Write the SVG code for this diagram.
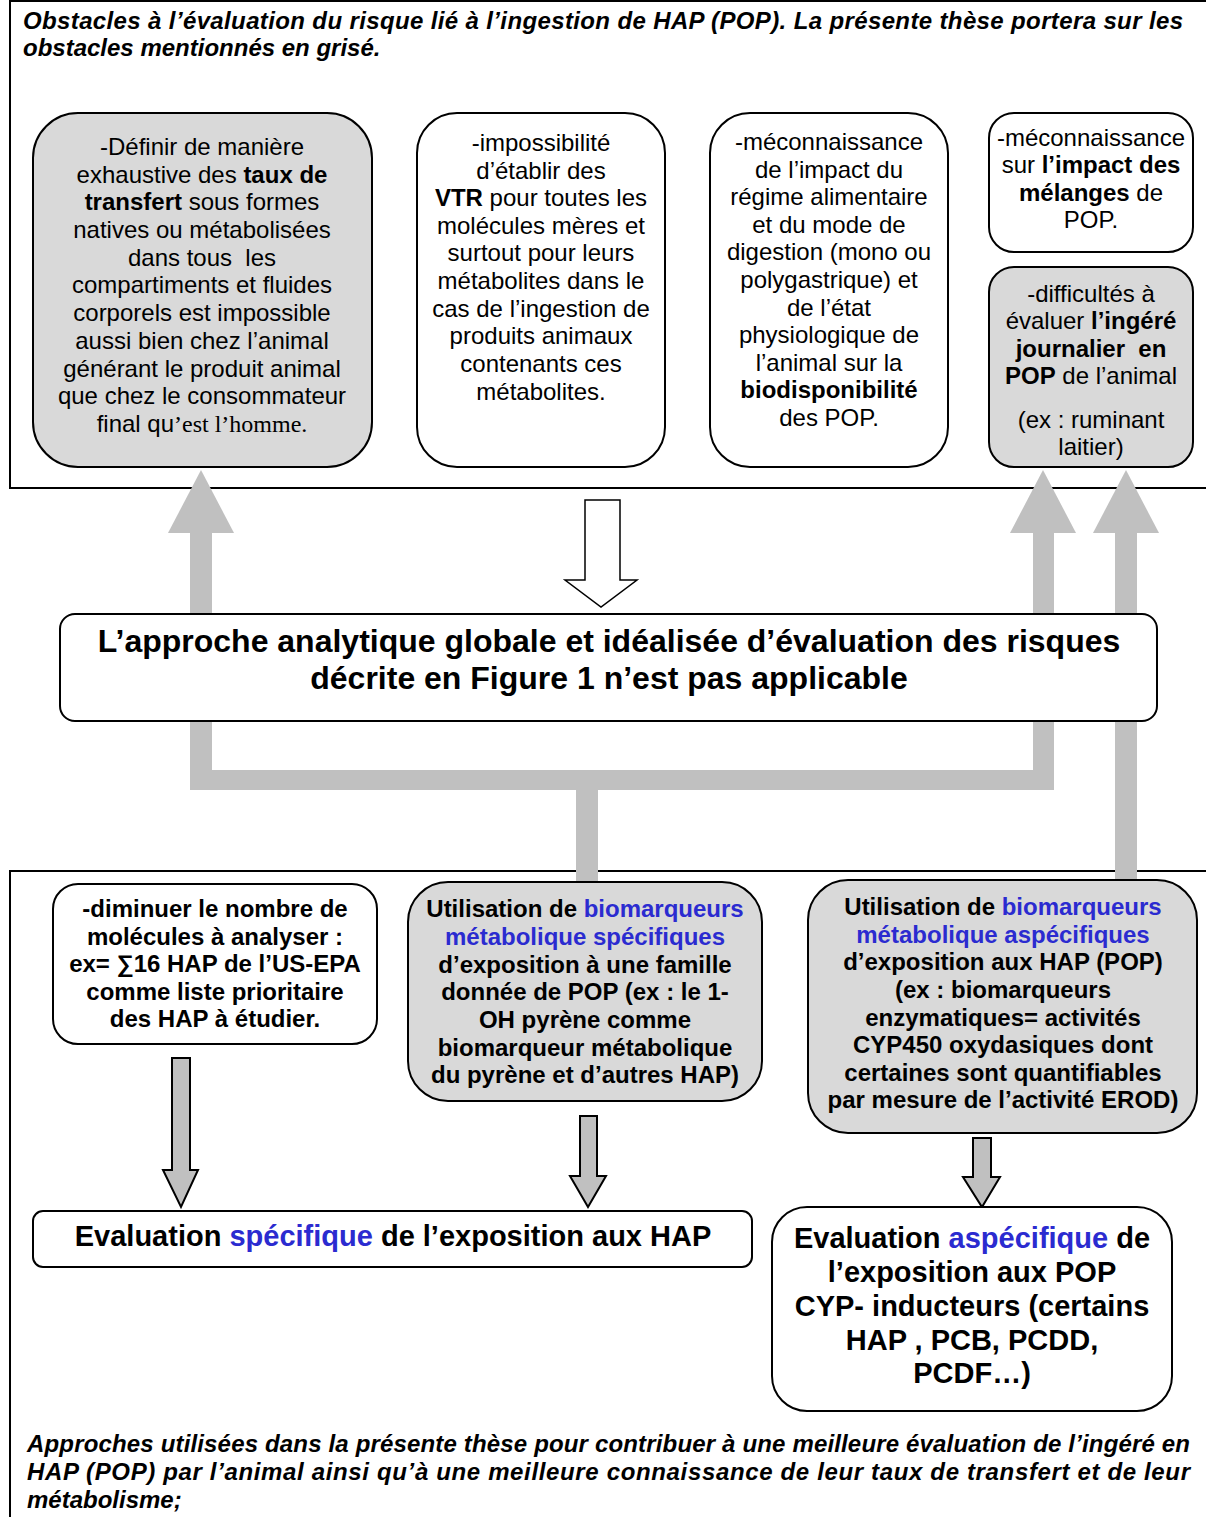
<svg xmlns="http://www.w3.org/2000/svg" width="1206" height="1517" viewBox="0 0 1206 1517">
<style>
.t{font-family:"Liberation Sans",Arial,sans-serif;font-size:24px;text-anchor:middle;fill:#000}
.h{font-family:"Liberation Sans",Arial,sans-serif;font-size:24px;font-weight:bold;font-style:italic;fill:#000}
.b{font-weight:bold}
.blue{fill:#2b2bd0}
.serif{font-family:"Liberation Serif","Times New Roman",serif}
.box{stroke:#000;stroke-width:2}
.gray{fill:#d9d9d9}
.white{fill:#fff}
.frame{fill:none;stroke:#000;stroke-width:2}
.ga{fill:#c0c0c0}
.oa{fill:#c0c0c0;stroke:#000;stroke-width:2;stroke-linejoin:miter}
.ha{fill:#fff;stroke:#000;stroke-width:1.5}
</style>
<rect width="1206" height="1517" fill="#fff"/>
<g id="frames">
<path class="frame" d="M1206,1 H10 V488 H1206"/>
<path class="frame" d="M1206,871 H10 V1517"/>
</g>
<g id="headings">
<text class="h" x="23" y="29" textLength="1160" lengthAdjust="spacing">Obstacles à l’évaluation du risque lié à l’ingestion de HAP (POP). La présente thèse portera sur les</text>
<text class="h" x="23" y="56">obstacles mentionnés en grisé.</text>
<text class="h" x="27" y="1452" textLength="1163" lengthAdjust="spacing">Approches utilisées dans la présente thèse pour contribuer à une meilleure évaluation de l’ingéré en</text>
<text class="h" x="27" y="1480" textLength="1163" lengthAdjust="spacing">HAP (POP) par l’animal ainsi qu’à une meilleure connaissance de leur taux de transfert et de leur</text>
<text class="h" x="27" y="1508">métabolisme;</text>
</g>
<g id="connectors">
<path class="ga" d="M190,532 H212 V770 H1033 V532 H1054 V790 H190 Z"/>
<polygon class="ga" points="168,533 234,533 201,470"/>
<polygon class="ga" points="1010,533 1076,533 1043,470"/>
<rect class="ga" x="576" y="789" width="22" height="94"/>
<rect class="ga" x="1115" y="532" width="22" height="349"/>
<polygon class="ga" points="1093,533 1159,533 1126,470"/>
<path class="ha" d="M585,500 H620 V580 H637 L601,607 L565,580 H585 Z"/>
<path class="oa" d="M172,1058 H190 V1170 H198 L181,1207 L163,1170 H172 Z"/>
<path class="oa" d="M580,1116 H597 V1176 H606 L588,1207 L570,1176 H580 Z"/>
<path class="oa" d="M973,1138 H991 V1177 H1000 L982,1207 L963,1177 H973 Z"/>
</g>
<g id="n1">
<rect class="box gray" x="33" y="113" width="339" height="354" rx="45"/>
<text class="t" x="202" y="155">-Définir de manière</text>
<text class="t" x="202" y="183">exhaustive des <tspan class="b">taux de</tspan></text>
<text class="t" x="202" y="210"><tspan class="b">transfert</tspan> sous formes</text>
<text class="t" x="202" y="238">natives ou métabolisées</text>
<text class="t" x="202" y="266" xml:space="preserve">dans tous  les</text>
<text class="t" x="202" y="293">compartiments et fluides</text>
<text class="t" x="202" y="321">corporels est impossible</text>
<text class="t" x="202" y="349">aussi bien chez l’animal</text>
<text class="t" x="202" y="377">générant le produit animal</text>
<text class="t" x="202" y="404">que chez le consommateur</text>
<text class="t" x="202" y="432">final qu<tspan class="serif">’est l’homme.</tspan></text>
</g>
<g id="n2">
<rect class="box white" x="417" y="113" width="248" height="354" rx="40"/>
<text class="t" x="541" y="151">-impossibilité</text>
<text class="t" x="541" y="179">d’établir des</text>
<text class="t" x="541" y="206"><tspan class="b">VTR</tspan> pour toutes les</text>
<text class="t" x="541" y="234">molécules mères et</text>
<text class="t" x="541" y="261">surtout pour leurs</text>
<text class="t" x="541" y="289">métabolites dans le</text>
<text class="t" x="541" y="317">cas de l’ingestion de</text>
<text class="t" x="541" y="344">produits animaux</text>
<text class="t" x="541" y="372">contenants ces</text>
<text class="t" x="541" y="400">métabolites.</text>
</g>
<g id="n3">
<rect class="box white" x="710" y="113" width="238" height="354" rx="40"/>
<text class="t" x="829" y="150">-méconnaissance</text>
<text class="t" x="829" y="178">de l’impact du</text>
<text class="t" x="829" y="205">régime alimentaire</text>
<text class="t" x="829" y="233">et du mode de</text>
<text class="t" x="829" y="260">digestion (mono ou</text>
<text class="t" x="829" y="288">polygastrique) et</text>
<text class="t" x="829" y="316">de l’état</text>
<text class="t" x="829" y="343">physiologique de</text>
<text class="t" x="829" y="371">l’animal sur la</text>
<text class="t" x="829" y="398"><tspan class="b">biodisponibilité</tspan></text>
<text class="t" x="829" y="426">des POP.</text>
</g>
<g id="n4">
<rect class="box white" x="989" y="113" width="204" height="139" rx="25"/>
<text class="t" x="1091" y="146">-méconnaissance</text>
<text class="t" x="1091" y="173">sur <tspan class="b">l’impact des</tspan></text>
<text class="t" x="1091" y="201"><tspan class="b">mélanges</tspan> de</text>
<text class="t" x="1091" y="228">POP.</text>
</g>
<g id="n5">
<rect class="box gray" x="989" y="267" width="204" height="200" rx="25"/>
<text class="t" x="1091" y="302">-difficultés à</text>
<text class="t" x="1091" y="329">évaluer <tspan class="b">l’ingéré</tspan></text>
<text class="t b" x="1091" y="357" xml:space="preserve">journalier  en</text>
<text class="t" x="1091" y="384"><tspan class="b">POP</tspan> de l’animal</text>
<text class="t" x="1091" y="428">(ex : ruminant</text>
<text class="t" x="1091" y="455">laitier)</text>
</g>
<g id="main">
<rect class="box white" x="60" y="614" width="1097" height="107" rx="15"/>
<text class="t b" x="609" y="652" style="font-size:32px">L’approche analytique globale et idéalisée d’évaluation des risques</text>
<text class="t b" x="609" y="689" style="font-size:32px">décrite en Figure 1 n’est pas applicable</text>
</g>
<g id="nA">
<rect class="box white" x="53" y="884" width="324" height="160" rx="25"/>
<text class="t b" x="215" y="917">-diminuer le nombre de</text>
<text class="t b" x="215" y="945">molécules à analyser :</text>
<text class="t b" x="215" y="972">ex= ∑16 HAP de l’US-EPA</text>
<text class="t b" x="215" y="1000">comme liste prioritaire</text>
<text class="t b" x="215" y="1027">des HAP à étudier.</text>
</g>
<g id="nB">
<rect class="box gray" x="408" y="882" width="354" height="219" rx="40"/>
<text class="t b" x="585" y="917">Utilisation de <tspan class="blue">biomarqueurs</tspan></text>
<text class="t b blue" x="585" y="945">métabolique spécifiques</text>
<text class="t b" x="585" y="973">d’exposition à une famille</text>
<text class="t b" x="585" y="1000">donnée de POP (ex : le 1-</text>
<text class="t b" x="585" y="1028">OH pyrène comme</text>
<text class="t b" x="585" y="1056">biomarqueur métabolique</text>
<text class="t b" x="585" y="1083">du pyrène et d’autres HAP)</text>
</g>
<g id="nC">
<rect class="box gray" x="808" y="880" width="389" height="253" rx="40"/>
<text class="t b" x="1003" y="915">Utilisation de <tspan class="blue">biomarqueurs</tspan></text>
<text class="t b blue" x="1003" y="943">métabolique aspécifiques</text>
<text class="t b" x="1003" y="970">d’exposition aux HAP (POP)</text>
<text class="t b" x="1003" y="998">(ex : biomarqueurs</text>
<text class="t b" x="1003" y="1026">enzymatiques= activités</text>
<text class="t b" x="1003" y="1053">CYP450 oxydasiques dont</text>
<text class="t b" x="1003" y="1081">certaines sont quantifiables</text>
<text class="t b" x="1003" y="1108">par mesure de l’activité EROD)</text>
</g>
<g id="nD">
<rect class="box white" x="33" y="1211" width="719" height="56" rx="10"/>
<text class="t b" x="393" y="1246" style="font-size:29px">Evaluation <tspan class="blue">spécifique</tspan> de l’exposition aux HAP</text>
</g>
<g id="nE">
<rect class="box white" x="772" y="1207" width="400" height="204" rx="35"/>
<text class="t b" x="972" y="1248" style="font-size:29px">Evaluation <tspan class="blue">aspécifique</tspan> de</text>
<text class="t b" x="972" y="1282" style="font-size:29px">l’exposition aux POP</text>
<text class="t b" x="972" y="1316" style="font-size:29px">CYP- inducteurs (certains</text>
<text class="t b" x="972" y="1350" style="font-size:29px">HAP , PCB, PCDD,</text>
<text class="t b" x="972" y="1383" style="font-size:29px">PCDF…)</text>
</g>
</svg>
